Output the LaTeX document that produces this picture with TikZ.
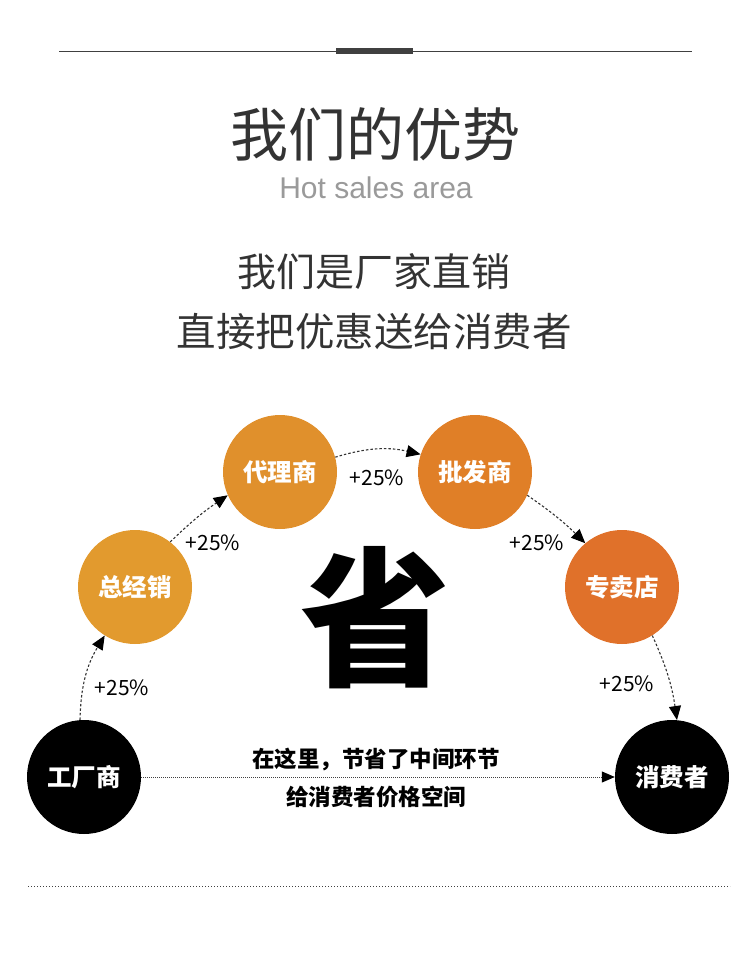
\documentclass[tikz,border=0pt]{standalone}
\usepackage{fontspec}
\setmainfont{Noto Sans CJK SC}
\newfontfamily\latinfont{Liberation Sans}
\newfontfamily\heavyfont{Noto Sans CJK SC Black}
\usetikzlibrary{arrows.meta,positioning,calc}
\definecolor{textgray}{HTML}{333333}
\definecolor{linegray}{HTML}{404040}
\definecolor{subgray}{HTML}{9A9A9A}
\definecolor{ochre}{HTML}{E29A2E}
\definecolor{amber}{HTML}{E0902C}
\definecolor{tangerine}{HTML}{E07F27}
\definecolor{rust}{HTML}{E0712A}

\begin{document}
\begin{tikzpicture}[x=1pt, y=1pt,
    stage/.style={circle, minimum size=114pt, inner sep=0pt, text=white,
                  font=\fontsize{24.5}{24.5}\selectfont\bfseries},
    pct/.style={font=\fontsize{21}{21}\selectfont, text=black},
    arr/.style={-{Triangle[length=14pt, width=12pt, color=black]},
                line width=1.1pt, linegray!80!black, dash pattern=on 2.5pt off 2pt}
]
    \useasboundingbox (0,0) rectangle (750,-953);

    % header
    \draw[linegray, line width=1pt] (59,-51) -- (692,-51);
    \fill[linegray] (336,-48) rectangle (413,-54);
    \node[text=textgray, font=\fontsize{58}{58}\selectfont] (title) at (375,-134) {我们的优势};
    \node[text=subgray, font=\latinfont\fontsize{30}{30}\selectfont] (sub) at (376,-188) {Hot sales area};
    \node[text=textgray, font=\fontsize{39}{39}\selectfont] (line1) at (374,-272) {我们是厂家直销};
    \node[text=textgray, font=\fontsize{39.5}{39.5}\selectfont] (line2) at (374,-332) {直接把优惠送给消费者};

    % chain of middlemen
    \node[stage, fill=black] (fac) at (84,-777) {工厂商};
    \node[stage, fill=ochre] (zjx) at (135,-587) {总经销};
    \node[stage, fill=amber] (dl) at (280,-472) {代理商};
    \node[stage, fill=tangerine] (pf) at (475,-472) {批发商};
    \node[stage, fill=rust] (zmd) at (622,-587) {专卖店};
    \node[stage, fill=black] (xfz) at (672,-777) {消费者};

    \node[font=\heavyfont\fontsize{150}{150}\selectfont] (sheng) at (375,-618) {省};

    \draw[arr] (fac.94) to[bend left=15] (zjx.238);
    \draw[arr] (zjx.52) to[bend left=5] (dl.204);
    \draw[arr] (dl.15) to[bend left=15] (pf.162);
    \draw[arr] (pf.336) to[bend left=5] (zmd.130);
    \draw[arr] (zmd.302) to[bend left=8] (xfz.85);

    \node[pct] (p1) at (122,-688) {+25\%};
    \node[pct] (p2) at (213,-543) {+25\%};
    \node[pct] (p3) at (377,-478) {+25\%};
    \node[pct] (p4) at (537,-543) {+25\%};
    \node[pct] (p5) at (627,-684) {+25\%};

    % the direct way
    \draw[-{Triangle[length=13pt, width=11pt, color=black]}, line width=1pt,
          linegray, dash pattern=on 1pt off 1pt] (fac) -- (xfz);
    \node[font=\fontsize{22.5}{22.5}\selectfont\bfseries] (save1) at (376,-760) {在这里，节省了中间环节};
    \node[font=\fontsize{22.5}{22.5}\selectfont\bfseries] (save2) at (376,-797) {给消费者价格空间};

    \draw[linegray, line width=1pt, dash pattern=on 1pt off 2pt] (28,-886) -- (730,-886);
\end{tikzpicture}
\end{document}
